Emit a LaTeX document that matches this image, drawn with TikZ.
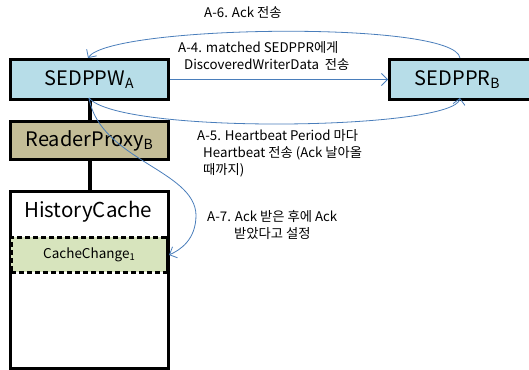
\documentclass[tikz,border=0pt]{standalone}
\usepackage{fontspec}
\setmainfont{Noto Sans CJK KR}
\usetikzlibrary{arrows.meta}
\definecolor{boxblue}{HTML}{B7DDE8}
\definecolor{boxtan}{HTML}{C4BD97}
\definecolor{boxgreen}{HTML}{D7E4BD}
\definecolor{msgblue}{HTML}{4A7EBB}
\tikzset{
  entity/.style={draw=black, line width=3pt, inner sep=0pt},
  msg/.style={draw=msgblue, line width=0.8pt, -{Straight Barb[length=6pt,width=12pt]}},
  lbl/.style={font=\fontsize{13.3}{17}\selectfont, align=left, inner sep=0pt, anchor=west},
  link/.style={line width=4pt}
}
\begin{document}
\begin{tikzpicture}[x=1pt,y=-1pt]
\useasboundingbox (0,0) rectangle (529,369);
% history cache with its change entry
\node[entity, fill=white, minimum width=158pt, minimum height=177pt, anchor=north west] (hc) at (9,190) {};
\node[font=\fontsize{20.5}{24}\selectfont, anchor=center] (hct) at (88,212) {HistoryCache};
\node[draw=black, dashed, line width=2.5pt, dash pattern=on 5pt off 3pt, fill=boxgreen, minimum width=156pt, minimum height=35pt, anchor=north west, inner sep=0pt, font=\fontsize{13.5}{16}\selectfont] (cc) at (10,236) {CacheChange\textsubscript{1}};
\draw[line width=3pt] (167,236) -- (167,272);
% writer side
\node[entity, fill=boxblue, minimum width=158pt, minimum height=40pt, anchor=north west, font=\fontsize{20}{24}\selectfont] (wa) at (9,58) {SEDPPW\textsubscript{A}};
\node[entity, fill=boxtan, minimum width=158pt, minimum height=38pt, anchor=north west, font=\fontsize{20}{24}\selectfont] (rp) at (9,120) {ReaderProxy\textsubscript{B}};
% reader side
\node[entity, fill=boxblue, minimum width=160pt, minimum height=40pt, anchor=north west, font=\fontsize{20}{24}\selectfont] (rb) at (388,58) {SEDPPR\textsubscript{B}\hspace*{24pt}};
% structural links
\draw[link] (wa.south) -- (rp.north);
\draw[link] (rp.south) -- (hc.north);
% messages
\coordinate (wtop) at (88,58);
\coordinate (wbot) at (89,98);
\coordinate (rtop) at (460,58);
\coordinate (rbot) at (460,98);
\coordinate (ccr) at (169,255);
\draw[msg] (wa.east) -- (rb.west);
\draw[msg] (rtop) .. controls (455,20) and (110,25) .. (wtop);
\draw[msg] (wbot) .. controls (120,135) and (455,130) .. (rbot);
\draw[msg] (wbot) .. controls (100,160) and (195,170) .. (196,215) .. controls (196,240) and (180,250) .. (ccr);
% message labels
\node[lbl] (l6) at (204,13) {A-6. Ack 전송};
\node[lbl] (l4) at (178,56.5) {A-4. matched SEDPPR에게\\\ \ DiscoveredWriterData\ \ 전송};
\node[lbl] (l5) at (197,153) {A-5. Heartbeat Period 마다\\\ \ Heartbeat 전송 (Ack 날아올\\\ \ 때까지)};
\node[lbl] (l7) at (207,225) {A-7. Ack 받은 후에 Ack\\\hspace*{27pt}받았다고 설정};
\end{tikzpicture}
\end{document}
